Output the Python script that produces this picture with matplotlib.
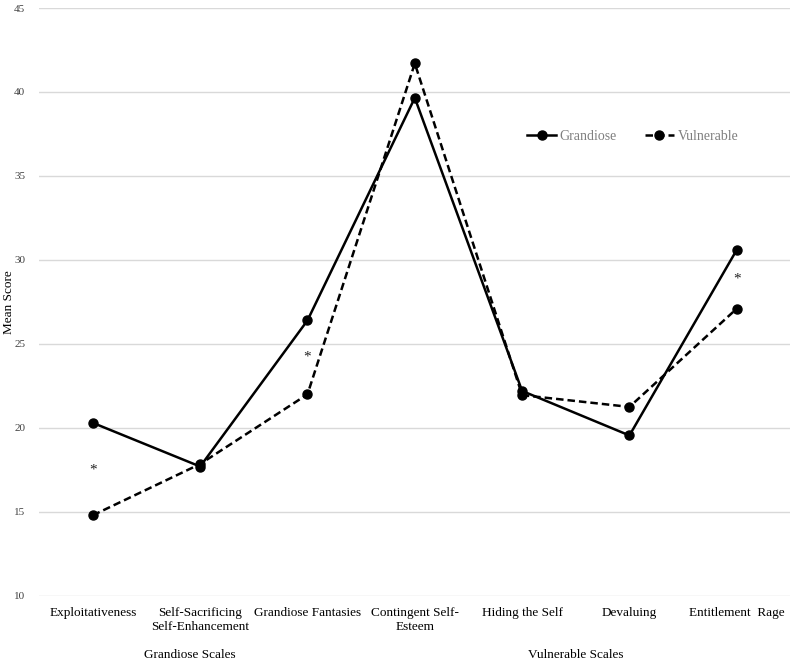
import matplotlib.pyplot as plt
import numpy as np

# scale names and mean scores
categories = ["Exploitativeness", "Self-Sacrificing\nSelf-Enhancement", "Grandiose Fantasies",
              "Contingent Self-\nEsteem", "Hiding the Self", "Devaluing", "Entitlement  Rage"]
grandiose = [20.3, 17.7, 26.4, 39.65, 22.2, 19.55, 30.6]
vulnerable = [14.8, 17.85, 22.0, 41.7, 21.95, 21.25, 27.1]

# significance markers (category index, height)
star_idx = [0, 2, 6]
star_y = [17.5, 24.2, 28.85]

group_labels = ["Grandiose Scales", "Vulnerable Scales"]

plt.rcParams['font.family'] = ['Liberation Serif', 'DejaVu Serif']

fig = plt.figure(figsize=(8, 6.68), dpi=100)
ax = fig.add_axes([0.049, 0.108, 0.939, 0.880])

x = np.arange(len(categories))
ax.plot(x, grandiose, color='black', lw=1.8, marker='o', ms=6.5, label='Grandiose')
ax.plot(x, vulnerable, color='black', lw=1.8, ls=(0, (3, 1.6)), marker='o', ms=6.5, label='Vulnerable')

for i, yv in zip(star_idx, star_y):
    ax.text(i, yv, "*", ha='center', va='center', fontsize=11, color='#222222')

ax.set_xlim(-0.5, len(categories) - 0.5)
ax.set_ylim(10, 45)
ax.set_yticks(np.arange(10, 46, 5))
ax.set_xticks(x)
ax.set_xticklabels(categories, fontsize=9.5, linespacing=1.25)
ax.tick_params(axis='y', labelsize=8, labelcolor='#404040', length=0, pad=10)
ax.tick_params(axis='x', length=0, pad=8)
ax.yaxis.grid(True, color='#d9d9d9', lw=1)
ax.set_axisbelow(True)
for s in ax.spines.values():
    s.set_visible(False)

# y axis title, placed by hand so it sits at the far left edge
fig.text(0.011, 0.5 * (0.108 + 0.988), "Mean Score", rotation=90, ha='center', va='center', fontsize=9.5)

leg = ax.legend(loc='center', bbox_to_anchor=(0.79, 0.782), ncol=2, frameon=False,
                fontsize=10, handlelength=2.1, columnspacing=2.0, handletextpad=0.25)
for t in leg.get_texts():
    t.set_color('#7f7f7f')

fig.text(0.2375, 0.019, group_labels[0], ha='center', va='center', fontsize=9.5)
fig.text(0.72, 0.019, group_labels[1], ha='center', va='center', fontsize=9.5)

fig.savefig("out.png", dpi=100)
